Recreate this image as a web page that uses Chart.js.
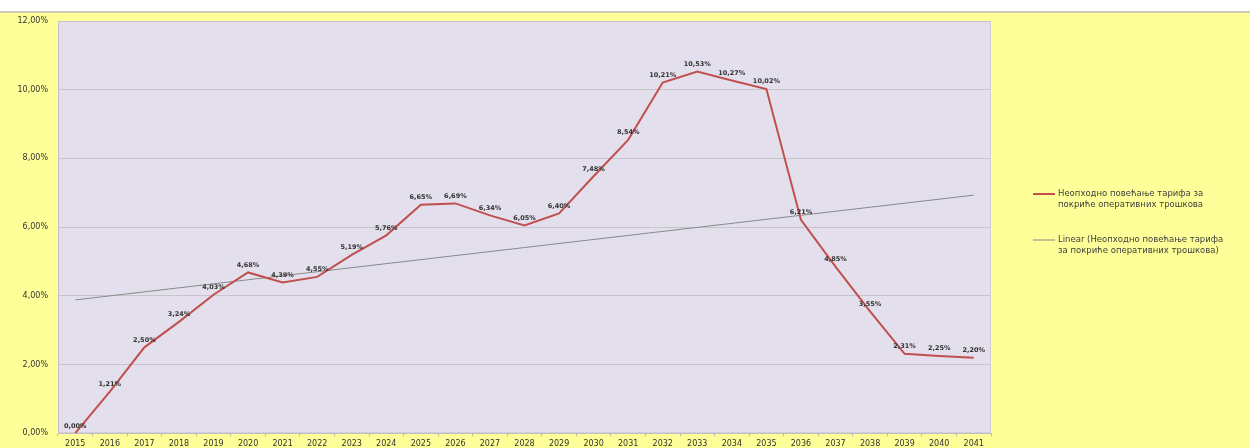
<!DOCTYPE html>
<html>
<head>
<meta charset="utf-8">
<script src="https://cdn.jsdelivr.net/npm/chart.js@4/dist/chart.umd.min.js"></script>
<style>
html,body{margin:0;padding:0;background:#fff;}
canvas{display:block;}
</style>
</head>
<body>
<canvas id="c" width="1250" height="448"></canvas>
<script>
const years = ['2015','2016','2017','2018','2019','2020','2021','2022','2023','2024','2025','2026','2027','2028','2029','2030','2031','2032','2033','2034','2035','2036','2037','2038','2039','2040','2041'];
const tariffIncrease = [0.00,1.21,2.50,3.24,4.03,4.68,4.39,4.55,5.19,5.76,6.65,6.69,6.34,6.05,6.40,7.48,8.54,10.21,10.53,10.27,10.02,6.21,4.85,3.55,2.31,2.25,2.20];
const trendStart = 3.88;
const trendEnd = 6.93;
const yTicks = [0,2,4,6,8,10,12];
const seriesLabel = 'Неопходно повећање тарифа за покриће оперативних трошкова';
const trendLabel = 'Linear (Неопходно повећање тарифа за покриће оперативних трошкова)';

const FONT = '"DejaVu Sans", sans-serif';
const fmt = v => v.toFixed(2).replace('.', ',') + '%';

const bgPlugin = {
  id: 'bg',
  beforeDraw(chart) {
    const ctx = chart.ctx, a = chart.chartArea;
    ctx.save();
    ctx.fillStyle = '#ffffff';
    ctx.fillRect(0, 0, chart.width, chart.height);
    ctx.fillStyle = '#ffff99';
    ctx.fillRect(0, 13, chart.width, chart.height - 13);
    ctx.fillStyle = '#cfcbb8';
    ctx.fillRect(0, 11, chart.width, 2);
    ctx.fillStyle = '#e4dfec';
    ctx.fillRect(a.left, a.top, a.right - a.left, a.bottom - a.top);
    ctx.strokeStyle = '#cfcad6';
    ctx.lineWidth = 1;
    ctx.strokeRect(a.left + 0.5, a.top + 0.5, a.right - a.left - 1, a.bottom - a.top - 1);
    ctx.restore();
  }
};

const labelPlugin = {
  id: 'vlabels',
  afterDatasetsDraw(chart) {
    const ctx = chart.ctx;
    const meta = chart.getDatasetMeta(0);
    ctx.save();
    ctx.font = 'bold 6.5px ' + FONT;
    ctx.fillStyle = '#333333';
    ctx.textAlign = 'center';
    ctx.textBaseline = 'bottom';
    meta.data.forEach((pt, i) => {
      ctx.fillText(fmt(tariffIncrease[i]), pt.x, pt.y - 4);
    });
    ctx.restore();
  }
};

function wrap(ctx, text, maxW) {
  const words = text.split(' ');
  const lines = [];
  let cur = '';
  words.forEach(w => {
    const t = cur ? cur + ' ' + w : w;
    if (ctx.measureText(t).width > maxW && cur) { lines.push(cur); cur = w; }
    else cur = t;
  });
  if (cur) lines.push(cur);
  return lines;
}

const legendPlugin = {
  id: 'sideLegend',
  afterDraw(chart) {
    const ctx = chart.ctx;
    ctx.save();
    ctx.font = '8.5px ' + FONT;
    ctx.fillStyle = '#404040';
    ctx.textAlign = 'left';
    ctx.textBaseline = 'middle';
    const items = chart.data.datasets.map(d => ({text: d.label, color: d.borderColor, w: d.borderWidth}));
    const tops = [194, 240];
    items.forEach((it, k) => {
      const y = tops[k];
      ctx.strokeStyle = it.color;
      ctx.lineWidth = it.w;
      ctx.beginPath();
      ctx.moveTo(1033, y);
      ctx.lineTo(1055, y);
      ctx.stroke();
      const lines = wrap(ctx, it.text, 172);
      lines.forEach((ln, j) => ctx.fillText(ln, 1058, y + j * 11));
    });
    ctx.restore();
  }
};

new Chart(document.getElementById('c'), {
  type: 'line',
  data: {
    labels: years,
    datasets: [
      {
        label: seriesLabel,
        data: tariffIncrease,
        borderColor: '#c0504d',
        borderWidth: 2,
        pointRadius: 0,
        tension: 0,
        fill: false
      },
      {
        label: trendLabel,
        data: [{x: years[0], y: trendStart}, {x: years[years.length - 1], y: trendEnd}],
        borderColor: '#8a8a8a',
        borderWidth: 1,
        pointRadius: 0,
        tension: 0,
        fill: false
      }
    ]
  },
  options: {
    responsive: false,
    animation: false,
    devicePixelRatio: 1,
    layout: { padding: { left: 0, right: 259, top: 21, bottom: 0 } },
    plugins: { legend: { display: false }, tooltip: { enabled: false } },
    scales: {
      x: {
        type: 'category',
        offset: true,
        grid: { drawOnChartArea: false, drawTicks: true, tickLength: 3, color: '#b8b4a8', offset: true },
        border: { color: '#c0bcc8' },
        ticks: { autoSkip: false, maxRotation: 0, color: '#333333', font: { size: 8, family: FONT }, padding: 3 },
        afterFit(s) { s.height = 13; }
      },
      y: {
        min: 0, max: 12,
        afterBuildTicks(s) { s.ticks = yTicks.map(v => ({value: v})); },
        grid: { color: '#c8c4cc', lineWidth: 1, drawTicks: false },
        border: { color: '#c0bcc8' },
        ticks: { color: '#333333', font: { size: 8, family: FONT }, padding: 10, callback: v => fmt(v) },
        afterFit(s) { s.width = 58; }
      }
    }
  },
  plugins: [bgPlugin, labelPlugin, legendPlugin]
});
</script>
</body>
</html>
